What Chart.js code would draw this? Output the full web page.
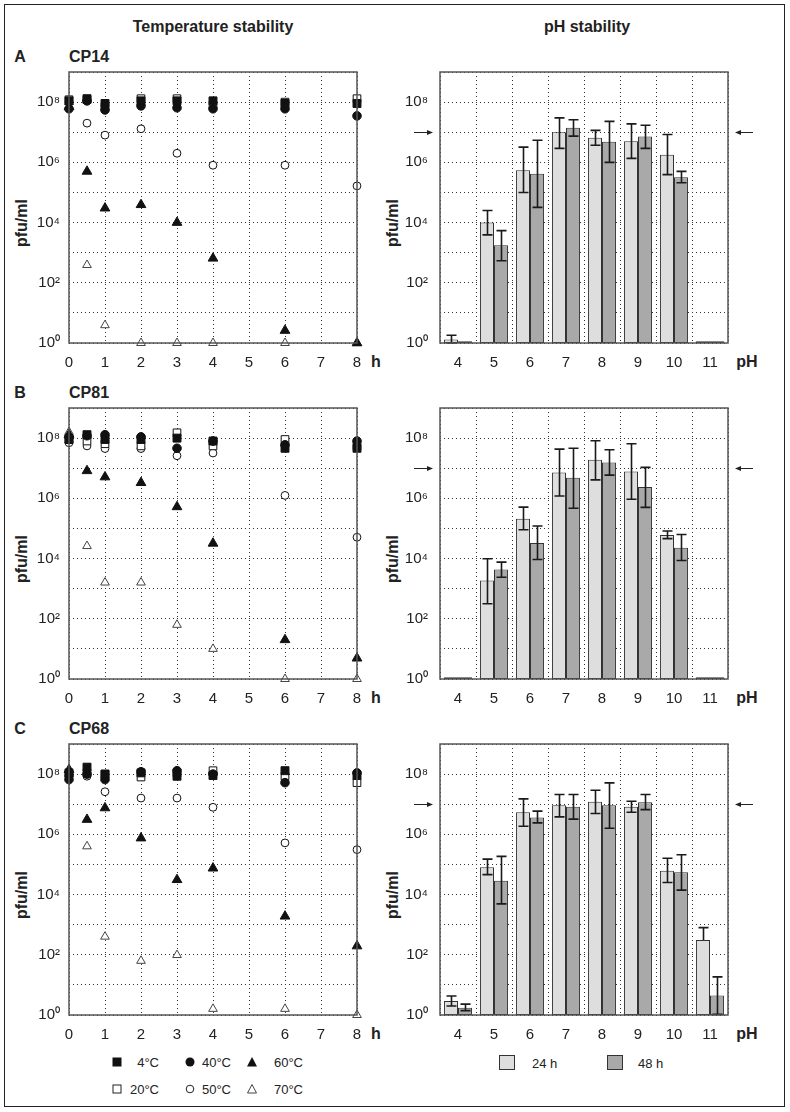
<!DOCTYPE html>
<html>
<head>
<meta charset="utf-8">
<script src="https://cdn.jsdelivr.net/npm/chart.js@4.4.1/dist/chart.umd.min.js"></script>
<style>
  body { margin: 0; background: #fff; font-family: "Liberation Sans", Arial, sans-serif; color: #222; }
  #page { position: relative; width: 790px; height: 1112px; overflow: hidden; }
  #frame { position: absolute; left: 4px; top: 4px; width: 779px; height: 1101px; border: 1.5px solid #222; }
  canvas { position: absolute; }
  .t { position: absolute; white-space: nowrap; font-weight: bold; font-size: 16px; line-height: 1; transform: translate(-50%, -50%); }
  .l { position: absolute; white-space: nowrap; font-weight: bold; font-size: 16px; line-height: 1; transform: translateY(-50%); }
  .rot { transform: translate(-50%, -50%) rotate(-90deg); }
  .lg { position: absolute; font-size: 13px; line-height: 1; transform: translateY(-50%); white-space: nowrap; }
  .lgr { position: absolute; font-size: 13px; line-height: 1; transform: translate(-100%, -50%); white-space: nowrap; }
  .mk { position: absolute; transform: translate(-50%, -50%); }
  .box { position: absolute; width: 14px; height: 13px; border: 1.5px solid #333; }
</style>
</head>
<body>
<div id="page">
  <div id="frame"></div>

  <div class="t" style="left:213px;top:27px">Temperature stability</div>
  <div class="t" style="left:587px;top:27px">pH stability</div>

  <div class="t" style="left:20px;top:57px">A</div>
  <div class="l" style="left:69px;top:57px">CP14</div>
  <div class="t" style="left:20px;top:393px">B</div>
  <div class="l" style="left:69px;top:393px">CP81</div>
  <div class="t" style="left:20px;top:729px">C</div>
  <div class="l" style="left:69px;top:729px">CP68</div>

  <div class="t rot" style="left:22px;top:223px">pfu/ml</div>
  <div class="t rot" style="left:393px;top:223px">pfu/ml</div>
  <div class="t rot" style="left:22px;top:559px">pfu/ml</div>
  <div class="t rot" style="left:393px;top:559px">pfu/ml</div>
  <div class="t rot" style="left:22px;top:895px">pfu/ml</div>
  <div class="t rot" style="left:393px;top:895px">pfu/ml</div>

  <div class="t" style="left:376px;top:362px">h</div>
  <div class="t" style="left:376px;top:698px">h</div>
  <div class="t" style="left:376px;top:1034px">h</div>
  <div class="t" style="left:747px;top:362px">pH</div>
  <div class="t" style="left:747px;top:698px">pH</div>
  <div class="t" style="left:747px;top:1034px">pH</div>

  <!-- temperature legend -->
  <svg class="mk" style="left:117px;top:1062px" width="12" height="12"><rect x="1.5" y="1.5" width="9" height="9" fill="#111"/></svg>
  <div class="lgr" style="left:159px;top:1062px">4°C</div>
  <svg class="mk" style="left:190px;top:1062px" width="12" height="12"><circle cx="6" cy="6" r="4.5" fill="#111"/></svg>
  <div class="lgr" style="left:231px;top:1062px">40°C</div>
  <svg class="mk" style="left:252px;top:1062px" width="12" height="12"><polygon points="6,1 11,10.5 1,10.5" fill="#111"/></svg>
  <div class="lgr" style="left:303px;top:1062px">60°C</div>
  <svg class="mk" style="left:117px;top:1089px" width="12" height="12"><rect x="2" y="2" width="8" height="8" fill="#fff" stroke="#222" stroke-width="1"/></svg>
  <div class="lgr" style="left:159px;top:1089px">20°C</div>
  <svg class="mk" style="left:190px;top:1089px" width="12" height="12"><circle cx="6" cy="6" r="3.8" fill="#fff" stroke="#222" stroke-width="1"/></svg>
  <div class="lgr" style="left:231px;top:1089px">50°C</div>
  <svg class="mk" style="left:252px;top:1089px" width="12" height="12"><polygon points="6,1.5 10.5,10 1.5,10" fill="#fff" stroke="#444" stroke-width="1"/></svg>
  <div class="lgr" style="left:303px;top:1089px">70°C</div>

  <!-- pH legend -->
  <div class="box" style="left:499px;top:1055px;background:#dedede"></div>
  <div class="lg" style="left:532px;top:1063px">24 h</div>
  <div class="box" style="left:607px;top:1055px;background:#a9a9a9"></div>
  <div class="lg" style="left:638px;top:1063px">48 h</div>

  <canvas id="tA" width="395" height="311" style="left:0;top:62px"></canvas>
  <canvas id="pA" width="410" height="311" style="left:380px;top:62px"></canvas>
  <canvas id="tB" width="395" height="311" style="left:0;top:398px"></canvas>
  <canvas id="pB" width="410" height="311" style="left:380px;top:398px"></canvas>
  <canvas id="tC" width="395" height="311" style="left:0;top:734px"></canvas>
  <canvas id="pC" width="410" height="311" style="left:380px;top:734px"></canvas>
</div>

<script>
// sampling times (h)
const times = [0, 0.5, 1, 2, 3, 4, 6, 8];
const tempLabels = ['4°C', '40°C', '60°C', '20°C', '50°C', '70°C'];

// CP14 temperature stability (pfu/ml)
const cp14_4 = [1.1e8, 1.3e8, 9e7, 1.1e8, 1.1e8, 1.1e8, 9e7, 9e7];
const cp14_20 = [1.2e8, 1.2e8, 7e7, 1.3e8, 1.3e8, 8e7, 1e8, 1.3e8];
const cp14_40 = [6e7, 1.1e8, 5.5e7, 7.5e7, 6.5e7, 6e7, 6e7, 3.5e7];
const cp14_50 = [1e8, 2e7, 8e6, 1.3e7, 2e6, 8e5, 8e5, 1.65e5];
const cp14_60 = [7e7, 5e5, 3e4, 3.9e4, 1e4, 650, 2.6, 1];
const cp14_70 = [1e8, 390, 3.9, 1, 1, 1, 1, 1];

// CP81 temperature stability
const cp81_4 = [9e7, 1.3e8, 9e7, 9e7, 1e8, 8e7, 4.6e7, 4.6e7];
const cp81_20 = [9e7, 8e7, 6.5e7, 5.5e7, 1.5e8, 5.5e7, 9e7, 5.5e7];
const cp81_40 = [1.1e8, 1.2e8, 1.3e8, 1.1e8, 4.6e7, 8e7, 6e7, 8e7];
const cp81_50 = [7e7, 5.5e7, 4.5e7, 4.5e7, 2.6e7, 3.2e7, 1.25e6, 5.1e4];
const cp81_60 = [1.3e8, 8.2e6, 5.1e6, 3.3e6, 5.2e5, 3.2e4, 20, 4.9];
const cp81_70 = [1.6e8, 2.6e4, 1.6e3, 1.6e3, 63, 10, 1, 1];

// CP68 temperature stability
const cp68_4 = [1.1e8, 1.7e8, 1e8, 1.1e8, 8.5e7, 9e7, 1.3e8, 9e7];
const cp68_20 = [1e8, 1.1e8, 1e8, 8e7, 1.1e8, 1.3e8, 8.5e7, 5.2e7];
const cp68_40 = [6.6e7, 1e8, 6.6e7, 1.2e8, 1.3e8, 1e8, 5.2e7, 1.1e8];
const cp68_50 = [9e7, 8.5e7, 2.6e7, 1.6e7, 1.6e7, 7.9e6, 5.2e5, 3.1e5];
const cp68_60 = [1.4e8, 3.1e6, 7.5e6, 7.5e5, 3.1e4, 7.5e4, 1.9e3, 195];
const cp68_70 = [1e8, 4e5, 400, 63, 98, 1.6, 1.6, 1];

// pH stability
const phLabels = ['4', '5', '6', '7', '8', '9', '10', '11'];

const cp14_24 = [1.3, 1e4, 5.5e5, 1e7, 6.5e6, 5e6, 1.8e6, 1.15];
const cp14_24hi = [1.8, 2.5e4, 3.2e6, 3e7, 1.15e7, 1.9e7, 8.4e6, null];
const cp14_24lo = [1, 3.9e3, 1e5, 2.9e6, 3.7e6, 1.35e6, 3.9e5, null];
const cp14_48 = [1.15, 1.75e3, 4.2e5, 1.4e7, 4.8e6, 7.2e6, 3.2e5, 1.15];
const cp14_48hi = [null, 5.4e3, 5.4e6, 2.6e7, 2.3e7, 1.7e7, 5e5, null];
const cp14_48lo = [null, 540, 3.2e4, 7.4e6, 1e6, 2.9e6, 2.1e5, null];

const cp81_24 = [1.15, 1.85e3, 2.1e5, 7.2e6, 1.9e7, 7.8e6, 6e4, 1.15];
const cp81_24hi = [null, 9.8e3, 5.1e5, 4.3e7, 8.2e7, 6.5e7, 8.2e4, null];
const cp81_24lo = [null, 316, 9.1e4, 1.2e6, 4.1e6, 9.3e5, 4.6e4, null];
const cp81_48 = [1.15, 4.3e3, 3.3e4, 4.8e6, 1.55e7, 2.4e6, 2.3e4, 1.15];
const cp81_48hi = [null, 7.6e3, 1.2e5, 4.6e7, 4.1e7, 1.07e7, 6.3e4, null];
const cp81_48lo = [null, 2.4e3, 9.3e3, 4.7e5, 5.9e6, 5e5, 8.6e3, null];

const cp68_24 = [2.9, 8.1e4, 5.4e6, 9.3e6, 1.2e7, 8.2e6, 6.2e4, 310];
const cp68_24hi = [4.3, 1.5e5, 1.5e7, 2.1e7, 2.9e7, 1.26e7, 1.6e5, 800];
const cp68_24lo = [2, 4.6e4, 1.85e6, 3.8e6, 4.9e6, 5.4e6, 2.5e4, 310];
const cp68_48 = [1.75, 2.9e4, 3.6e6, 8.2e6, 9.3e6, 1.17e7, 5.5e4, 4.4];
const cp68_48hi = [2.3, 1.85e5, 5.9e6, 2.1e7, 5.1e7, 2.1e7, 2.1e5, 18.5];
const cp68_48lo = [1.4, 4.9e3, 2.4e6, 3.2e6, 1.6e6, 6.6e6, 1.4e4, 1.05];

// decades and the reference level marked with arrows
const decades = [0, 1, 2, 3, 4, 5, 6, 7, 8, 9];
const arrowLevel = 1e7;

const sup = ['⁰', '¹', '²', '³', '⁴', '⁵', '⁶', '⁷', '⁸', '⁹'];
const FONT = '"Liberation Sans", Arial, sans-serif';

const framePlugin = {
  id: 'frame',
  afterDraw(chart) {
    const { ctx, chartArea: a } = chart;
    ctx.save();
    ctx.strokeStyle = '#555';
    ctx.lineWidth = 1.5;
    ctx.strokeRect(a.left, a.top, a.right - a.left, a.bottom - a.top);
    ctx.restore();
  },
};

const errorBarPlugin = {
  id: 'errorBars',
  afterDatasetsDraw(chart) {
    const { ctx } = chart;
    const yScale = chart.scales.y;
    ctx.save();
    ctx.strokeStyle = '#1a1a1a';
    ctx.lineWidth = 1.6;
    chart.data.datasets.forEach((ds, i) => {
      if (!ds.errHigh) return;
      chart.getDatasetMeta(i).data.forEach((bar, j) => {
        const hi = ds.errHigh[j];
        const lo = ds.errLow[j];
        if (hi == null) return;
        const x = Math.round(bar.x) + 0.5;
        const yHi = yScale.getPixelForValue(hi);
        const yLo = yScale.getPixelForValue(lo);
        ctx.beginPath();
        ctx.moveTo(x, yHi);
        ctx.lineTo(x, yLo);
        ctx.moveTo(x - 5, yHi);
        ctx.lineTo(x + 5, yHi);
        if (lo !== ds.data[j]) {
          ctx.moveTo(x - 5, yLo);
          ctx.lineTo(x + 5, yLo);
        }
        ctx.stroke();
      });
    });
    ctx.restore();
  },
};

const arrowPlugin = {
  id: 'arrows',
  afterDraw(chart) {
    const { ctx, chartArea: a } = chart;
    const y = Math.round(chart.scales.y.getPixelForValue(arrowLevel)) + 0.5;
    ctx.save();
    ctx.strokeStyle = '#222';
    ctx.fillStyle = '#222';
    ctx.lineWidth = 1;
    const drawArrow = (from, to) => {
      const dir = Math.sign(to - from);
      ctx.beginPath();
      ctx.moveTo(from, y);
      ctx.lineTo(to - dir * 5, y);
      ctx.stroke();
      ctx.beginPath();
      ctx.moveTo(to, y);
      ctx.lineTo(to - dir * 6, y - 2.5);
      ctx.lineTo(to - dir * 6, y + 2.5);
      ctx.closePath();
      ctx.fill();
    };
    drawArrow(a.left - 26, a.left - 7);
    drawArrow(a.right + 25, a.right + 7);
    ctx.restore();
  },
};

// keep the plot box where the reference has it: no extra label padding
function noPad(scale) {
  scale.paddingTop = 0;
  scale.paddingBottom = 0;
  scale.paddingLeft = 0;
  scale.paddingRight = 0;
}

function logAxis(width, pad) {
  return {
    type: 'logarithmic',
    min: 1,
    max: 1e9,
    afterBuildTicks: (scale) => {
      scale.ticks = decades.map((e) => ({ value: Math.pow(10, e) }));
    },
    afterFit: (scale) => { scale.width = width; noPad(scale); },
    ticks: {
      padding: pad,
      color: '#222',
      font: { family: FONT, size: 15 },
      callback: (value) => {
        const e = Math.round(Math.log10(value));
        return e % 2 === 0 && e < 9 ? '10' + sup[e] : '';
      },
    },
    grid: { color: '#333', lineWidth: 1, drawTicks: false },
    border: { display: false, dash: [1, 3] },
  };
}

function pointSet(label, values, style) {
  return Object.assign({
    label,
    data: times.map((t, i) => ({ x: t, y: values[i] })),
    clip: false,
    borderWidth: 1,
    borderColor: '#111',
  }, style);
}

const styles = {
  '4°C': { pointStyle: 'rect', pointRadius: 5.6, backgroundColor: '#111' },
  '40°C': { pointStyle: 'circle', pointRadius: 4.3, backgroundColor: '#111' },
  '60°C': { pointStyle: 'triangle', pointRadius: 5.6, backgroundColor: '#111' },
  '20°C': { pointStyle: 'rect', pointRadius: 5.4, backgroundColor: '#fff' },
  '50°C': { pointStyle: 'circle', pointRadius: 3.9, backgroundColor: '#fff' },
  '70°C': { pointStyle: 'triangle', pointRadius: 5, backgroundColor: '#fff', borderColor: '#444' },
};

function makeTempChart(id, series) {
  return new Chart(document.getElementById(id), {
    type: 'scatter',
    data: {
      datasets: tempLabels.map((lab, k) => pointSet(lab, series[k], styles[lab])),
    },
    options: {
      responsive: false,
      animation: false,
      devicePixelRatio: 1,
      layout: { padding: { top: 10, right: 38, bottom: 0, left: 0 } },
      plugins: { legend: { display: false }, tooltip: { enabled: false } },
      scales: {
        x: {
          type: 'linear',
          min: 0,
          max: 8,
          afterFit: (scale) => { scale.height = 30; noPad(scale); },
          ticks: { stepSize: 1, padding: 11, color: '#222', font: { family: FONT, size: 15 } },
          grid: { color: '#333', lineWidth: 1, drawTicks: false },
          border: { display: false, dash: [1, 3] },
        },
        y: logAxis(69, 9),
      },
    },
    plugins: [framePlugin],
  });
}

function makePhChart(id, v24, hi24, lo24, v48, hi48, lo48) {
  const barStyle = {
    borderColor: '#333',
    borderWidth: 1,
    borderSkipped: false,
    categoryPercentage: 0.78,
    barPercentage: 1.0,
  };
  return new Chart(document.getElementById(id), {
    type: 'bar',
    data: {
      labels: phLabels,
      datasets: [
        Object.assign({ label: '24 h', data: v24, errHigh: hi24, errLow: lo24, backgroundColor: '#dedede' }, barStyle),
        Object.assign({ label: '48 h', data: v48, errHigh: hi48, errLow: lo48, backgroundColor: '#a9a9a9' }, barStyle),
      ],
    },
    options: {
      responsive: false,
      animation: false,
      devicePixelRatio: 1,
      layout: { padding: { top: 10, right: 62, bottom: 0, left: 0 } },
      plugins: { legend: { display: false }, tooltip: { enabled: false } },
      scales: {
        x: {
          afterFit: (scale) => { scale.height = 30; noPad(scale); },
          ticks: { padding: 11, color: '#222', font: { family: FONT, size: 15 } },
          grid: { color: '#333', lineWidth: 1, drawTicks: false, offset: true },
          border: { display: false, dash: [1, 3] },
        },
        y: logAxis(60, 12),
      },
    },
    plugins: [framePlugin, errorBarPlugin, arrowPlugin],
  });
}

makeTempChart('tA', [cp14_4, cp14_40, cp14_60, cp14_20, cp14_50, cp14_70]);
makeTempChart('tB', [cp81_4, cp81_40, cp81_60, cp81_20, cp81_50, cp81_70]);
makeTempChart('tC', [cp68_4, cp68_40, cp68_60, cp68_20, cp68_50, cp68_70]);

makePhChart('pA', cp14_24, cp14_24hi, cp14_24lo, cp14_48, cp14_48hi, cp14_48lo);
makePhChart('pB', cp81_24, cp81_24hi, cp81_24lo, cp81_48, cp81_48hi, cp81_48lo);
makePhChart('pC', cp68_24, cp68_24hi, cp68_24lo, cp68_48, cp68_48hi, cp68_48lo);
</script>
</body>
</html>
